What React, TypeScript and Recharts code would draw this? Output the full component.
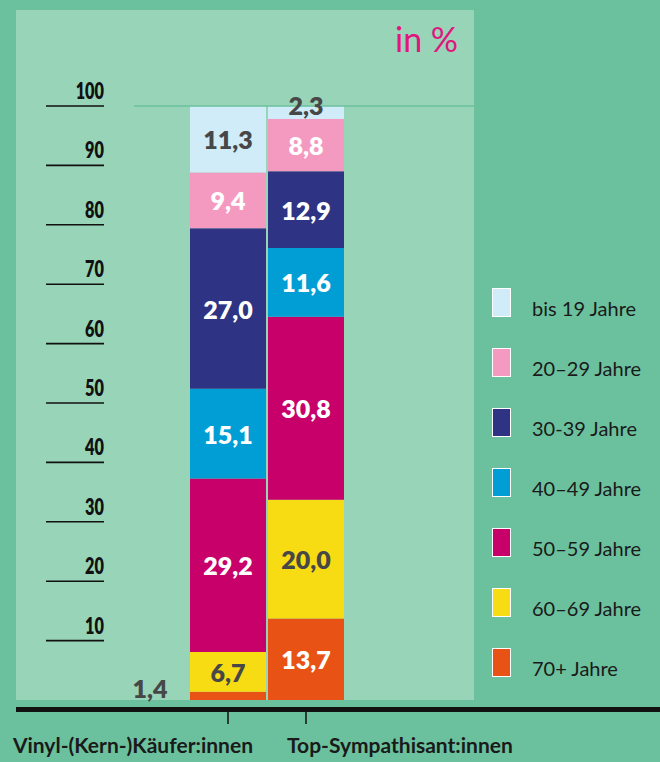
import { Bar, BarChart, LabelList, Legend, XAxis, YAxis } from "recharts";

const categories = ["Vinyl-(Kern-)Käufer:innen", "Top-Sympathisant:innen"];

// stack order, bottom to top
const ageGroups = [
  "70+ Jahre",
  "60–69 Jahre",
  "50–59 Jahre",
  "40–49 Jahre",
  "30-39 Jahre",
  "20–29 Jahre",
  "bis 19 Jahre",
];
const ageKeys = ["a70", "a60", "a50", "a40", "a30", "a20", "a19"];
const ageColors = ["#e85214", "#f8dc13", "#c8006a", "#009ed5", "#2e3383", "#f49ac1", "#d0ecf8"];

const a70 = [1.4, 13.7];
const a60 = [6.7, 20.0];
const a50 = [29.2, 30.8];
const a40 = [15.1, 11.6];
const a30 = [27.0, 12.9];
const a20 = [9.4, 8.8];
const a19 = [11.3, 2.3];

// label colour per segment per bar
const darkLabel: Record<string, boolean[]> = {
  a70: [true, false],
  a60: [true, true],
  a50: [false, false],
  a40: [false, false],
  a30: [false, false],
  a20: [false, false],
  a19: [true, true],
};

const yTicks = [10, 20, 30, 40, 50, 60, 70, 80, 90, 100];

const seriesValues = [a70, a60, a50, a40, a30, a20, a19];
const data = categories.map((name, i) => {
  const row: Record<string, string | number> = { name };
  ageKeys.forEach((k, j) => (row[k] = seriesValues[j][i]));
  return row;
});

const OUTER = "#6bc19e";
const PANEL = "#97d4b8";
const FONT = "Lato, 'Open Sans', sans-serif";

const fmt = (v: number) => v.toFixed(1).replace(".", ",");

function segmentLabel(key: string) {
  return (props: any) => {
    const { x, y, width, height, value, index } = props;
    if (value == null) return null;
    const dark = darkLabel[key][index];
    let cx = x + width / 2;
    let cy = y + height / 2;
    // small segments: label nudged above / beside
    if (key === "a70" && index === 0) {
      cx = x - 40;
      cy = cy - 8;
    }
    if (key === "a19" && index === 1) cy = cy - 8;
    return (
      <text
        x={cx}
        y={cy + 10}
        textAnchor="middle"
        fill={dark ? "#474747" : "#ffffff"}
        fontFamily={FONT}
        fontWeight={800}
        fontSize={25}
      >
        {fmt(Number(value))}
      </text>
    );
  };
}

function YTick(props: any) {
  const { y, payload } = props;
  return (
    <g>
      {payload.value === 100 && (
        <line x1={134} x2={474} y1={y} y2={y} stroke={OUTER} strokeWidth={1.5} />
      )}
      <line x1={46} x2={104} y1={y} y2={y} stroke="#111" strokeWidth={1.6} />
      <text
        transform={`translate(104, ${y - 7}) scale(0.74, 1)`}
        textAnchor="end"
        fill="#111"
        fontFamily={FONT}
        fontWeight={800}
        fontSize={22}
      >
        {payload.value}
      </text>
    </g>
  );
}

function XTick(props: any) {
  const { x, payload, index } = props;
  return (
    <g>
      <line x1={x} x2={x} y1={712} y2={724} stroke="#111" strokeWidth={1.5} />
      <text
        x={index === 0 ? x + 25 : x - 19}
        y={753}
        textAnchor={index === 0 ? "end" : "start"}
        fill="#1a1a1a"
        fontFamily={FONT}
        fontWeight={700}
        fontSize={21}
      >
        {payload.value}
      </text>
    </g>
  );
}

function LegendBox() {
  const order = [...ageGroups.keys()].reverse();
  return (
    <div style={{ position: "relative" }}>
      {order.map((j, r) => (
        <div
          key={ageKeys[j]}
          style={{ position: "absolute", left: 0, top: r * 60, height: 30, width: 160 }}
        >
          <div
            style={{
              position: "absolute",
              left: 0,
              top: 0,
              width: 17,
              height: 27,
              background: ageColors[j],
              border: "1px solid #ffffff",
            }}
          />
          <span
            style={{
              position: "absolute",
              left: 40,
              top: 6,
              fontFamily: FONT,
              fontSize: 20,
              color: "#1a1a1a",
              whiteSpace: "nowrap",
              lineHeight: "28px",
            }}
          >
            {ageGroups[j]}
          </span>
        </div>
      ))}
    </div>
  );
}

export default function App() {
  return (
    <div
      style={{
        position: "absolute",
        left: 0,
        top: 0,
        width: 660,
        height: 762,
        background: OUTER,
        overflow: "hidden",
      }}
    >
      <div
        style={{ position: "absolute", left: 16, top: 10, width: 458, height: 690, background: PANEL }}
      />
      <div
        style={{ position: "absolute", left: 16, top: 707, width: 644, height: 5, background: "#111" }}
      />
      <div
        style={{
          position: "absolute",
          left: 395,
          top: 19,
          fontFamily: FONT,
          fontSize: 34,
          color: "#e0157f",
          lineHeight: "40px",
        }}
      >
        in %
      </div>
      <div style={{ position: "absolute", left: 0, top: 0 }}>
        <BarChart
          width={660}
          height={762}
          data={data}
          margin={{ top: 106, right: 315, bottom: 0, left: 89 }}
          barCategoryGap={1}
        >
          <YAxis
            type="number"
            domain={[0, 100]}
            allowDataOverflow
            ticks={yTicks}
            width={100}
            axisLine={false}
            tickLine={false}
            tick={<YTick />}
            interval={0}
          />
          <XAxis
            dataKey="name"
            height={62}
            axisLine={false}
            tickLine={false}
            tick={<XTick />}
            interval={0}
          />
          <Legend
            verticalAlign="top"
            align="left"
            wrapperStyle={{ position: "absolute", left: 492, top: 288, width: 160 }}
            content={() => <LegendBox />}
          />
          {ageKeys.map((k, j) => (
            <Bar key={k} dataKey={k} stackId="a" fill={ageColors[j]} isAnimationActive={false}>
              <LabelList dataKey={k} content={segmentLabel(k)} />
            </Bar>
          ))}
        </BarChart>
      </div>
    </div>
  );
}
